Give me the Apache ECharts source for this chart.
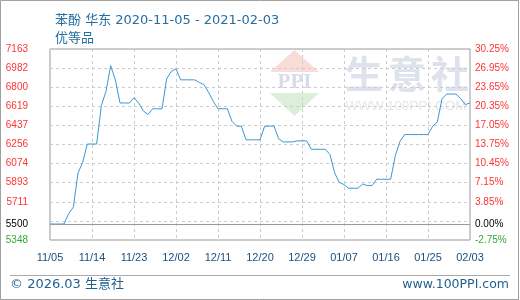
<!DOCTYPE html>
<html><head><meta charset="utf-8">
<script src="https://cdn.jsdelivr.net/npm/echarts@6/dist/echarts.min.js"></script>
<style>html,body{margin:0;padding:0;background:#fff}#c{width:520px;height:300px}</style>
</head><body><div id="c"></div>
<script>
// ---- data ----
const startDate = '2020-11-05';
const dayCount = 91;
const prices = [
  5500, 5500, 5500, 5500, 5600, 5660, 5985, 6085, 6260, 6260,
  6260, 6625, 6760, 7005, 6870, 6650, 6650, 6650, 6700, 6650,
  6575, 6540, 6595, 6595, 6595, 6880, 6950, 6975, 6870, 6870,
  6870, 6870, 6845, 6825, 6750, 6665, 6595, 6595, 6595, 6475,
  6430, 6430, 6300, 6300, 6300, 6300, 6430, 6430, 6430, 6310,
  6280, 6280, 6280, 6290, 6290, 6290, 6210, 6210, 6210, 6210,
  6160, 5985, 5895, 5875, 5840, 5840, 5840, 5880, 5865, 5865,
  5925, 5925, 5925, 5925, 6150, 6285, 6350, 6350, 6350, 6350,
  6350, 6350, 6430, 6470, 6690, 6735, 6735, 6735, 6690, 6635,
  6650
];
const baseValue = 5500;
const yMin = 5348;
const yMax = 7163;
const leftTickLabels = [5348, 5500, 5711, 5893, 6074, 6256, 6437, 6619, 6800, 6982, 7163];
const pctMin = -2.75;
const pctMax = 30.25;
const rightTickLabels = [-2.75, 0, 3.85, 7.15, 10.45, 13.75, 17.05, 20.35, 23.65, 26.95, 30.25];
const titleText = '苯酚 华东 2020-11-05 - 2021-02-03';
const subTitleText = '优等品';

// categories: one per day
const dates = [];
(function () {
  const d0 = new Date(startDate + 'T00:00:00Z');
  for (let i = 0; i < dayCount; i++) {
    const d = new Date(d0.getTime() + i * 86400000);
    const mm = String(d.getUTCMonth() + 1).padStart(2, '0');
    const dd = String(d.getUTCDate()).padStart(2, '0');
    dates.push(mm + '/' + dd);
  }
})();

const gridValues = [];
for (let k = 0; k <= 10; k++) gridValues.push(yMin + k * (yMax - yMin) / 10);

function signColor(v, base) {
  if (Math.abs(v - base) < 1e-9) return '#000000';
  return v > base ? '#ff3333' : '#33aa33';
}

const chart = echarts.init(document.getElementById('c'), null, {renderer: 'canvas'});
chart.setOption({
  animation: false,
  backgroundColor: '#ffffff',
  title: {
    text: titleText + '\n' + subTitleText,
    left: 50, top: 7,
    textStyle: {
      color: '#236fa1', fontSize: 13, fontWeight: 'normal', lineHeight: 18,
      fontFamily: '"DejaVu Sans", "Noto Sans CJK SC", sans-serif'
    }
  },
  grid: {
    left: 50, right: 50, top: 49, bottom: 60,
    show: true, borderColor: '#999999', borderWidth: 1, backgroundColor: 'transparent'
  },
  graphic: [
    {type: 'rect', z: 100, silent: true, shape: {x: 0.5, y: 0.5, width: 518, height: 299},
     style: {fill: 'none', stroke: '#a0a0a0', lineWidth: 1}},
    {type: 'line', silent: true, shape: {x1: 10, y1: 275.5, x2: 510, y2: 275.5},
     style: {stroke: '#aaaaaa', lineWidth: 1}},
    {type: 'text', silent: true, x: 10, y: 285,
     style: {text: '© 2026.03 生意社', fill: '#1f5f8f', fontSize: 13, verticalAlign: 'middle',
       fontFamily: '"DejaVu Sans", "Noto Sans CJK SC", sans-serif'}},
    {type: 'text', silent: true, x: 509, y: 285,
     style: {text: 'www.100PPI.com', fill: '#1f5f8f', fontSize: 12.5, align: 'right', verticalAlign: 'middle',
       fontFamily: '"DejaVu Sans", sans-serif'}},
    // watermark
    {type: 'polygon', silent: true, z: -1, shape: {points: [[270, 72], [294.5, 50], [319, 72]]},
     style: {fill: '#fadcd6'}},
    {type: 'polygon', silent: true, z: -1, shape: {points: [[270, 93], [294.5, 116], [319, 93]]},
     style: {fill: '#dcefd8'}},
    {type: 'text', silent: true, z: -1, x: 294.5, y: 83,
     style: {text: 'PPI', fill: '#d6dcec', fontSize: 21, fontWeight: 'bold', align: 'center', verticalAlign: 'middle',
       fontFamily: '"Liberation Serif", "DejaVu Serif", serif'}},
    {type: 'text', silent: true, z: -1, x: 364, y: 74,
     style: {text: '生', fill: '#dde2ec', fontSize: 38, fontWeight: 'bold', align: 'center', verticalAlign: 'middle',
       fontFamily: '"Noto Sans CJK SC", sans-serif'}},
    {type: 'text', silent: true, z: -1, x: 407, y: 74,
     style: {text: '意', fill: '#dde2ec', fontSize: 38, fontWeight: 'bold', align: 'center', verticalAlign: 'middle',
       fontFamily: '"Noto Sans CJK SC", sans-serif'}},
    {type: 'text', silent: true, z: -1, x: 450, y: 74,
     style: {text: '社', fill: '#dde2ec', fontSize: 38, fontWeight: 'bold', align: 'center', verticalAlign: 'middle',
       fontFamily: '"Noto Sans CJK SC", sans-serif'}},
    {type: 'text', silent: true, z: -1, x: 406, y: 106,
     style: {text: 'WWW.100PPI.COM', fill: '#e6e6e6', fontSize: 13.5, align: 'center', verticalAlign: 'middle',
       fontFamily: '"Liberation Sans", sans-serif'}}
  ],
  xAxis: {
    type: 'category',
    data: dates,
    boundaryGap: false,
    axisLine: {show: false},
    axisTick: {show: false},
    axisLabel: {
      interval: 8, margin: 12, color: '#1a4f80', fontSize: 11,
      fontFamily: '"Liberation Sans", sans-serif'
    },
    splitLine: {show: true, interval: 8, lineStyle: {color: '#cccccc', type: [3, 3], width: 1}}
  },
  yAxis: [
    {
      type: 'value', min: yMin, max: yMax, position: 'left',
      axisLine: {show: false},
      axisTick: {show: false, customValues: gridValues},
      axisLabel: {
        customValues: leftTickLabels, margin: 22, fontSize: 10,
        fontFamily: '"Liberation Sans", sans-serif',
        formatter: v => String(Math.round(v)),
        color: v => signColor(v, baseValue)
      },
      splitLine: {show: true, lineStyle: {color: '#cccccc', type: [3, 3], width: 1}}
    },
    {
      type: 'value', min: pctMin, max: pctMax, position: 'right',
      axisLine: {show: false},
      axisTick: {show: false},
      axisLabel: {
        customValues: rightTickLabels, margin: 5, fontSize: 10,
        fontFamily: '"Liberation Sans", sans-serif',
        formatter: v => v.toFixed(2) + '%',
        color: v => signColor(v, 0)
      },
      splitLine: {show: false}
    }
  ],
  series: [{
    type: 'line',
    data: prices,
    yAxisIndex: 0,
    symbol: 'none',
    smooth: false,
    lineStyle: {color: '#3a97d6', width: 1},
    markLine: {
      silent: true, symbol: 'none',
      label: {show: false},
      lineStyle: {color: '#999999', type: 'solid', width: 1},
      data: [{yAxis: baseValue}]
    }
  }]
});
</script>
</body></html>
